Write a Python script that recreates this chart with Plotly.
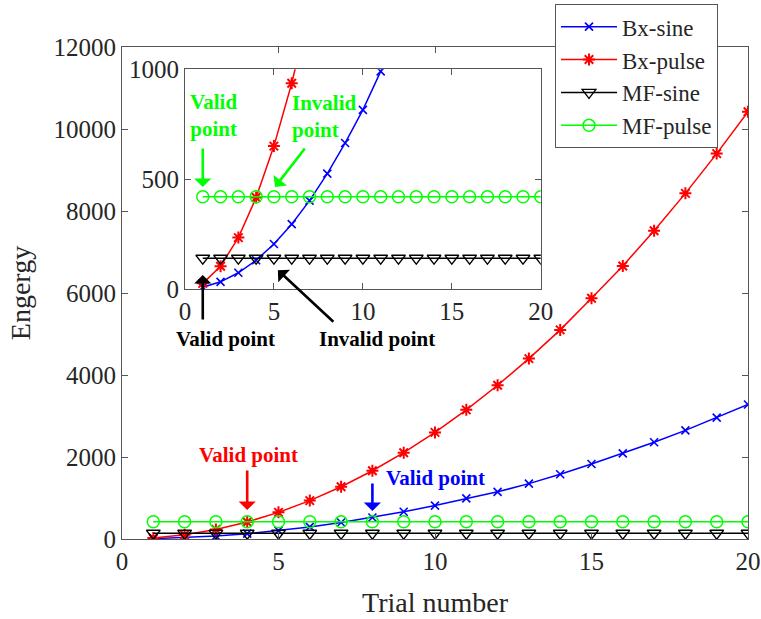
import plotly.graph_objects as go

trials = [1, 2, 3, 4, 5, 6, 7, 8, 9, 10, 11, 12, 13, 14, 15, 16, 17, 18, 19, 20]
bx_sine = [8, 33, 74, 131, 205, 295, 402, 525, 664, 815, 990, 1150, 1350, 1580, 1830, 2090, 2360, 2650, 2960, 3280]
bx_pulse = [26, 104, 234, 416, 650, 936, 1275, 1665, 2105, 2600, 3150, 3750, 4400, 5100, 5870, 6660, 7520, 8430, 9400, 10420]
mf_sine = [140, 140, 140, 140, 140, 140, 140, 140, 140, 140, 140, 140, 140, 140, 140, 140, 140, 140, 140, 140]
mf_pulse = [420, 420, 420, 420, 420, 420, 420, 420, 420, 420, 420, 420, 420, 420, 420, 420, 420, 420, 420, 420]
names = ["Bx-sine", "Bx-pulse", "MF-sine", "MF-pulse"]
main_xticks = [0, 5, 10, 15, 20]
main_yticks = [0, 2000, 4000, 6000, 8000, 10000, 12000]
inset_yticks = [0, 500, 1000]

FONT = "Liberation Serif"
AXC = "#555555"
TXT = "#262626"

styles = [
    dict(color="#0000FF", symbol="x-thin", size=8, lw=1.6),
    dict(color="#FF0000", symbol="asterisk", size=10, lw=2.0),
    dict(color="#000000", symbol="triangle-down-open", size=12, lw=1.3),
    dict(color="#00FF00", symbol="circle-open", size=12, lw=1.5),
]
series = [bx_sine, bx_pulse, mf_sine, mf_pulse]

fig = go.Figure()
for axes, show in [(("x", "y"), True), (("x2", "y2"), False)]:
    for name, vals, st in zip(names, series, styles):
        fig.add_trace(go.Scatter(
            x=trials, y=vals, name=name, mode="lines+markers",
            xaxis=axes[0], yaxis=axes[1], showlegend=show,
            line=dict(color=st["color"], width=1.5),
            marker=dict(symbol=st["symbol"], size=st["size"], color=st["color"],
                        line=dict(color=st["color"], width=st["lw"])),
        ))

axis_common = dict(showline=True, linecolor=AXC, linewidth=1, mirror="ticks",
                   ticks="inside", ticklen=6, tickcolor=AXC, showgrid=False,
                   zeroline=False, automargin=False, tickformat="d",
                   tickfont=dict(family=FONT, size=25, color=TXT))

fig.update_layout(
    width=761, height=619,
    margin=dict(l=122, r=13, t=47, b=80, autoexpand=False),
    paper_bgcolor="white", plot_bgcolor="white",
    font=dict(family=FONT, color=TXT),
    xaxis=dict(range=[0, 20], tickvals=main_xticks, domain=[0, 1],
               title=dict(text="Trial number", font=dict(family=FONT, size=28, color=TXT), standoff=18),
               **axis_common),
    yaxis=dict(range=[0, 12000], tickvals=main_yticks, domain=[0, 1],
               title=dict(text="Engergy", font=dict(family=FONT, size=28, color=TXT), standoff=14),
               **axis_common),
    xaxis2=dict(range=[0, 20], tickvals=main_xticks, domain=[0.1006, 0.669], anchor="y2",
                **axis_common),
    yaxis2=dict(range=[0, 1000], tickvals=inset_yticks, domain=[0.508, 0.955], anchor="x2",
                **axis_common),
    legend=dict(x=0.6917, y=1.087, xanchor="left", yanchor="top",
                bgcolor="white", bordercolor=AXC, borderwidth=1,
                font=dict(family=FONT, size=23, color=TXT),
                itemwidth=56, tracegroupgap=0),
    showlegend=True,
)

def txt(text, x, y, color, xref="x", yref="y", xanchor="center", align="center"):
    fig.add_annotation(text="<b>" + text + "</b>", x=x, y=y, xref=xref, yref=yref,
                       showarrow=False, xanchor=xanchor, yanchor="middle", align=align,
                       font=dict(family=FONT, size=21, color=color))

def arrow(x, y, ax, ay, color, xref="x", yref="y"):
    fig.add_annotation(text="", x=x, y=y, ax=ax, ay=ay, xref=xref, yref=yref,
                       showarrow=True, arrowhead=1, arrowsize=1.1, arrowwidth=2.6,
                       arrowcolor=color)

# main annotations
txt("Valid point", 4.03, 2049, "#FF0000")
arrow(4, 707, 0, -41, "#FF0000")
txt("Valid point", 10.0, 1488, "#0000FF")
arrow(8, 683, 0, -29, "#0000FF")

# inset annotations
txt("Valid<br>point", 1.63, 789, "#00FF00", "x2", "y2")
arrow(1, 464, 0, -40, "#00FF00", "x2", "y2")
txt("Invalid<br>point", 5.9, 784, "#00FF00", "x2", "y2", xanchor="left", align="left")
arrow(5.06, 464, 31, -40, "#00FF00", "x2", "y2")
# labels under the inset (paper coordinates: plot area x 122..748, y 47..539)
txt("Valid point", (225 - 122) / 626, (539 - 339) / 492, "#000000", "paper", "paper")
arrow(1, 64, 0, 46, "#000000", "x2", "y2")
txt("Invalid point", (377 - 122) / 626, (539 - 339) / 492, "#000000", "paper", "paper")
arrow(5.22, 86, 57, 53, "#000000", "x2", "y2")

fig.write_html("out.html")
